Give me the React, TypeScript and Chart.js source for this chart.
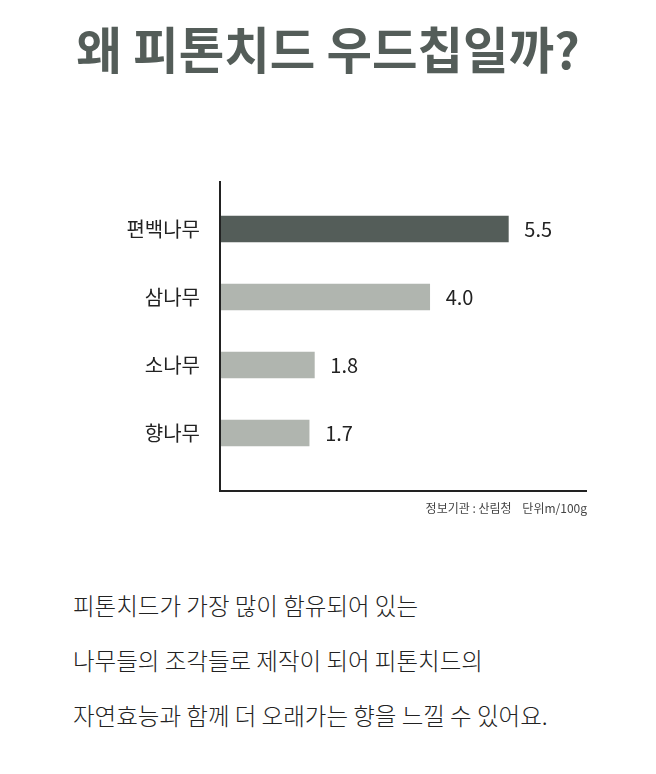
import React, { useEffect, useRef } from "react";
import { Chart, registerables } from "chart.js";

Chart.register(...registerables);

const TITLE = "왜 피톤치드 우드칩일까?";
const categories = ["편백나무", "삼나무", "소나무", "향나무"];
const values = [5.5, 4.0, 1.8, 1.7];
const valueLabels = ["5.5", "4.0", "1.8", "1.7"];
const barColors = ["#545d59", "#b0b5af", "#b0b5af", "#b0b5af"];
const X_MAX = 7;
const SOURCE_NOTE = "정보기관 : 산림청\u00a0\u00a0\u00a0\u00a0단위m/100g";
const bodyLines = [
  "피톤치드가 가장 많이 함유되어 있는",
  "나무들의 조각들로 제작이 되어 피톤치드의",
  "자연효능과 함께 더 오래가는 향을 느낄 수 있어요.",
];

const FONT = "'Noto Sans CJK KR', 'Noto Sans', sans-serif";

const axisLinesPlugin = {
  id: "axisLines",
  afterDraw(chart: any) {
    const { ctx, chartArea } = chart;
    const extTop = 14;
    const extBottom = 24;
    ctx.save();
    ctx.strokeStyle = "#222";
    ctx.lineWidth = 2;
    ctx.beginPath();
    ctx.moveTo(chartArea.left, chartArea.top - extTop);
    ctx.lineTo(chartArea.left, chartArea.bottom + extBottom);
    ctx.lineTo(chartArea.right, chartArea.bottom + extBottom);
    ctx.stroke();
    ctx.restore();
  },
};

const valueLabelPlugin = {
  id: "valueLabels",
  afterDatasetsDraw(chart: any) {
    const { ctx } = chart;
    const meta = chart.getDatasetMeta(0);
    ctx.save();
    ctx.fillStyle = "#222";
    ctx.font = `400 20px ${FONT}`;
    ctx.textAlign = "left";
    ctx.textBaseline = "middle";
    meta.data.forEach((bar: any, i: number) => {
      ctx.fillText(valueLabels[i], bar.x + 16, bar.y);
    });
    ctx.restore();
  },
};

export default function App() {
  const canvasRef = useRef<HTMLCanvasElement | null>(null);

  useEffect(() => {
    if (!canvasRef.current) return;
    const chart = new Chart(canvasRef.current, {
      type: "bar",
      data: {
        labels: categories,
        datasets: [
          {
            data: values,
            backgroundColor: barColors,
            barThickness: 26,
            borderWidth: 0,
          },
        ],
      },
      options: {
        indexAxis: "y",
        animation: false,
        responsive: false,
        maintainAspectRatio: false,
        layout: { padding: { top: 17, bottom: 33, right: 69, left: 0 } },
        plugins: {
          legend: { display: false },
          tooltip: { enabled: false },
          title: { display: false },
        },
        scales: {
          x: {
            display: false,
            min: 0,
            max: X_MAX,
          },
          y: {
            grid: { display: false, drawTicks: false },
            border: { display: false },
            ticks: {
              padding: 20,
              color: "#222",
              font: { family: FONT, size: 20, weight: "400" },
            },
            afterFit(scale: any) {
              scale.width = 220;
            },
          },
        },
      } as any,
      plugins: [axisLinesPlugin, valueLabelPlugin],
    });
    return () => chart.destroy();
  }, []);

  return (
    <div
      style={{
        position: "absolute",
        left: 0,
        top: 0,
        width: 656,
        height: 774,
        background: "#fff",
        fontFamily: FONT,
        overflow: "hidden",
      }}
    >
      <div
        style={{
          position: "absolute",
          left: 0,
          top: 18,
          width: 656,
          textAlign: "center",
          fontSize: 49.5,
          lineHeight: "60px",
          fontWeight: 700,
          color: "#545d59",
          whiteSpace: "nowrap",
        }}
      >
        {TITLE}
      </div>
      <canvas
        ref={canvasRef}
        width={656}
        height={337}
        style={{ position: "absolute", left: 0, top: 163, width: 656, height: 337 }}
      />
      <div
        style={{
          position: "absolute",
          right: 69,
          top: 498,
          fontSize: 12,
          lineHeight: "20px",
          color: "#444",
          whiteSpace: "nowrap",
        }}
      >
        {SOURCE_NOTE}
      </div>
      <div
        style={{
          position: "absolute",
          left: 73,
          top: 578,
          fontSize: 23.5,
          lineHeight: "55px",
          fontWeight: 300,
          color: "#222",
          whiteSpace: "nowrap",
        }}
      >
        {bodyLines.map((l, i) => (
          <div key={i}>{l}</div>
        ))}
      </div>
    </div>
  );
}
